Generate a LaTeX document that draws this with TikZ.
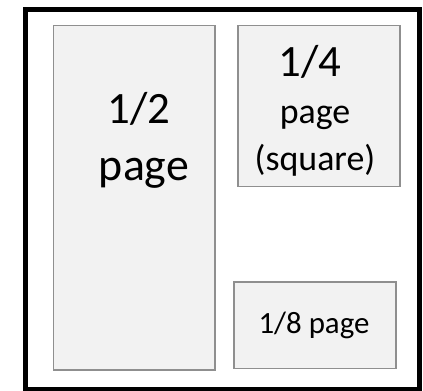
\documentclass[tikz,border=0pt]{standalone}
\usepackage{fontspec}
\setmainfont{Carlito}
\definecolor{boxfill}{HTML}{F2F2F2}
\definecolor{boxline}{HTML}{8F8F8F}
\begin{document}
\begin{tikzpicture}[x=1bp,y=-1bp,
  pagebox/.style={draw=boxline,fill=boxfill,line width=1.5bp,rectangle,inner sep=0pt,anchor=north west},
  lbl/.style={anchor=base,inner sep=0pt,text=black}]
\useasboundingbox (0,0) rectangle (423,391);
\node[draw=black,line width=5bp,rectangle,inner sep=0pt,anchor=north west,minimum width=394bp,minimum height=380bp] (frame) at (22.5,6.5) {};
\node[pagebox,minimum width=161.5bp,minimum height=344.5bp] (half) at (52.5,24.5) {};
\node[pagebox,minimum width=162bp,minimum height=161bp] (quarter) at (237,24.5) {};
\node[pagebox,minimum width=162bp,minimum height=86.5bp] (eighth) at (233,281) {};
\node[lbl,font=\fontsize{45}{54}\selectfont] (t1) at (139,123.3) {1/2};
\node[lbl,font=\fontsize{46}{55}\selectfont] (t2) at (144,180) {page};
\node[lbl,font=\fontsize{45}{54}\selectfont] (t3) at (310,76.7) {1/4};
\node[lbl,font=\fontsize{36}{43}\selectfont] (t4) at (315,123.3) {page};
\node[lbl,font=\fontsize{36}{43}\selectfont] (t5) at (315,170) {(square)};
\node[lbl,font=\fontsize{31}{37}\selectfont] (t6) at (314,333) {1/8 page};
\end{tikzpicture}
\end{document}
